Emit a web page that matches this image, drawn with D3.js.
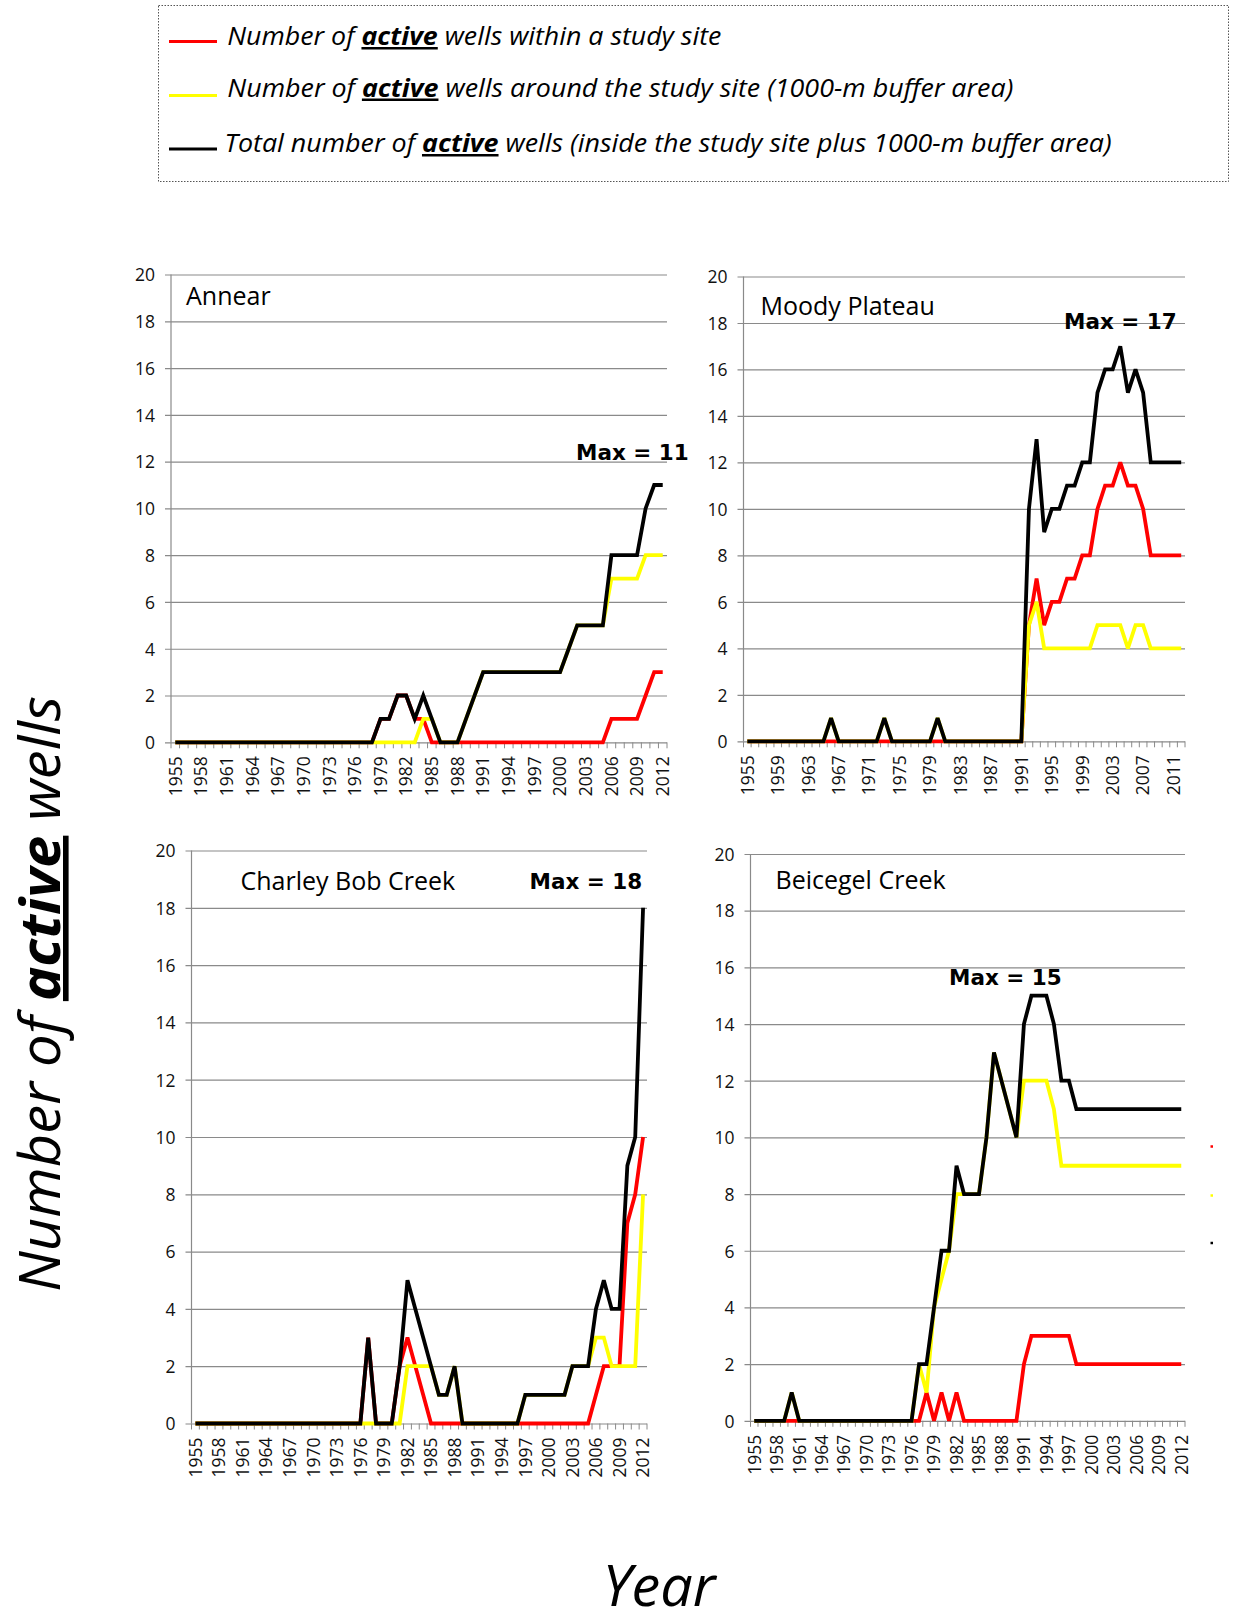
<!DOCTYPE html>
<html>
<head>
<meta charset="utf-8">
<script src="https://cdn.jsdelivr.net/npm/d3@7"></script>
<style>
  body { margin: 0; background: #fff; }
  svg { display: block; }
</style>
</head>
<body>
<svg id="chart" width="1233" height="1622"></svg>
<script>
// ---------------- DATA ----------------
const years = [1955,1956,1957,1958,1959,
  1960,1961,1962,1963,1964,1965,1966,1967,1968,1969,
  1970,1971,1972,1973,1974,1975,1976,1977,1978,1979,
  1980,1981,1982,1983,1984,1985,1986,1987,1988,1989,
  1990,1991,1992,1993,1994,1995,1996,1997,1998,1999,
  2000,2001,2002,2003,2004,2005,2006,2007,2008,2009,
  2010,2011,2012];

const ticksEvery3 = ["1955","1958","1961","1964","1967","1970","1973","1976","1979","1982",
  "1985","1988","1991","1994","1997","2000","2003","2006","2009","2012"];
const ticksEvery4 = ["1955","1959","1963","1967","1971","1975","1979","1983","1987","1991",
  "1995","1999","2003","2007","2011"];
const yTicks = [0,2,4,6,8,10,12,14,16,18,20];

const seriesColors = ["#ff0000", "#ffff00", "#000000"];
const legendLabels = [
  ["Number of ", "active", " wells within a study site"],
  ["Number of ", "active", " wells around the study site (1000-m buffer area)"],
  ["Total number of ", "active", " wells (inside the study site plus 1000-m buffer area)"]
];

// Annear
const annearWithin = [0,0,0,0,0,
  0,0,0,0,0,0,0,0,0,0,
  0,0,0,0,0,0,0,0,0,1,
  1,2,2,1,1,0,0,0,0,0,
  0,0,0,0,0,0,0,0,0,0,
  0,0,0,0,0,0,1,1,1,1,
  2,3,3];
const annearAround = [0,0,0,0,0,
  0,0,0,0,0,0,0,0,0,0,
  0,0,0,0,0,0,0,0,0,0,
  0,0,0,0,1,1,0,0,0,1,
  2,3,3,3,3,3,3,3,3,3,
  3,4,5,5,5,5,7,7,7,7,
  8,8,8];
const annearTotal = [0,0,0,0,0,
  0,0,0,0,0,0,0,0,0,0,
  0,0,0,0,0,0,0,0,0,1,
  1,2,2,1,2,1,0,0,0,1,
  2,3,3,3,3,3,3,3,3,3,
  3,4,5,5,5,5,8,8,8,8,
  10,11,11];

// Moody Plateau
const moodyWithin = [0,0,0,0,0,
  0,0,0,0,0,0,0,0,0,0,
  0,0,0,0,0,0,0,0,0,0,
  0,0,0,0,0,0,0,0,0,0,
  0,0,5,7,5,6,6,7,7,8,
  8,10,11,11,12,11,11,10,8,8,
  8,8,8];
const moodyAround = [0,0,0,0,0,
  0,0,0,0,0,0,1,0,0,0,
  0,0,0,1,0,0,0,0,0,0,
  1,0,0,0,0,0,0,0,0,0,
  0,0,5,6,4,4,4,4,4,4,
  4,5,5,5,5,4,5,5,4,4,
  4,4,4];
const moodyTotal = [0,0,0,0,0,
  0,0,0,0,0,0,1,0,0,0,
  0,0,0,1,0,0,0,0,0,0,
  1,0,0,0,0,0,0,0,0,0,
  0,0,10,13,9,10,10,11,11,12,
  12,15,16,16,17,15,16,15,12,12,
  12,12,12];

// Charley Bob Creek
const charleyWithin = [0,0,0,0,0,
  0,0,0,0,0,0,0,0,0,0,
  0,0,0,0,0,0,0,3,0,0,
  0,2,3,2,1,0,0,0,0,0,
  0,0,0,0,0,0,0,0,0,0,
  0,0,0,0,0,0,1,2,2,2,
  7,8,10];
const charleyAround = [0,0,0,0,0,
  0,0,0,0,0,0,0,0,0,0,
  0,0,0,0,0,0,0,0,0,0,
  0,0,2,2,2,2,1,1,2,0,
  0,0,0,0,0,0,0,1,1,1,
  1,1,1,2,2,2,3,3,2,2,
  2,2,8];
const charleyTotal = [0,0,0,0,0,
  0,0,0,0,0,0,0,0,0,0,
  0,0,0,0,0,0,0,3,0,0,
  0,2,5,4,3,2,1,1,2,0,
  0,0,0,0,0,0,0,1,1,1,
  1,1,1,2,2,2,4,5,4,4,
  9,10,18];

// Beicegel Creek
const beicegelWithin = [0,0,0,0,0,
  0,0,0,0,0,0,0,0,0,0,
  0,0,0,0,0,0,0,0,1,0,
  1,0,1,0,0,0,0,0,0,0,
  0,2,3,3,3,3,3,3,2,2,
  2,2,2,2,2,2,2,2,2,2,
  2,2,2];
const beicegelAround = [0,0,0,0,0,
  1,0,0,0,0,0,0,0,0,0,
  0,0,0,0,0,0,0,2,1,4,
  5,6,8,8,8,8,10,13,12,11,
  10,12,12,12,12,11,9,9,9,9,
  9,9,9,9,9,9,9,9,9,9,
  9,9,9];
const beicegelTotal = [0,0,0,0,0,
  1,0,0,0,0,0,0,0,0,0,
  0,0,0,0,0,0,0,2,2,4,
  6,6,9,8,8,8,10,13,12,11,
  10,14,15,15,15,14,12,12,11,11,
  11,11,11,11,11,11,11,11,11,11,
  11,11,11];

// ---------------- LAYOUT ----------------
const SANS = "'Open Sans', 'Noto Sans', sans-serif";
const BOLD = "'DejaVu Sans', Verdana, sans-serif";
const GRID = "#8a8a8a";

const panels = [
  { name: "Annear", max: "Max = 11", ticks: ticksEvery3,
    series: [annearWithin, annearAround, annearTotal],
    L: { left: 171, right: 667, top: 274.5, bottom: 742.3, tx: 186, ty: 305, mx: 576, my: 459.5 } },
  { name: "Moody Plateau", max: "Max = 17", ticks: ticksEvery4,
    series: [moodyWithin, moodyAround, moodyTotal],
    L: { left: 743.5, right: 1185, top: 276.5, bottom: 741.3, tx: 760.5, ty: 315, mx: 1064, my: 328.5 } },
  { name: "Charley Bob Creek", max: "Max = 18", ticks: ticksEvery3,
    series: [charleyWithin, charleyAround, charleyTotal],
    L: { left: 191.5, right: 647, top: 850.5, bottom: 1423.5, tx: 240.5, ty: 890, mx: 529.5, my: 889 } },
  { name: "Beicegel Creek", max: "Max = 15", ticks: ticksEvery3,
    series: [beicegelWithin, beicegelAround, beicegelTotal],
    L: { left: 750.5, right: 1185, top: 854, bottom: 1420.8, tx: 775.5, ty: 889, mx: 949, my: 984.5 } }
];

const svg = d3.select("#chart");

function drawPanel(P) {
  const L = P.L;
  const g = svg.append("g");
  const x = d3.scaleBand().domain(years).range([L.left, L.right]).padding(0);
  const y = d3.scaleLinear().domain([0, 20]).range([L.bottom, L.top]);
  const W = L.right - L.left;

  // y axis with gridlines
  const yAxis = d3.axisLeft(y).tickValues(yTicks).tickSize(-W).tickPadding(16);
  const yg = g.append("g").attr("transform", `translate(${L.left},0)`).call(yAxis);
  yg.select(".domain").remove();
  yg.selectAll(".tick line").attr("x1", -6).attr("x2", W)
    .attr("stroke", GRID).attr("stroke-width", 1.2);
  yg.selectAll(".tick text").attr("font-family", SANS).attr("font-size", 17.5)
    .attr("fill", "#111").attr("dy", "0.36em");
  // vertical axis line
  g.append("line").attr("x1", L.left).attr("x2", L.left)
    .attr("y1", y(20)).attr("y2", y(0)).attr("stroke", GRID).attr("stroke-width", 1.2);

  // category boundary ticks
  const bounds = years.map(d => x(d)).concat([L.right]);
  g.append("g").selectAll("line").data(bounds).join("line")
    .attr("x1", d => d).attr("x2", d => d)
    .attr("y1", y(0)).attr("y2", y(0) + 6)
    .attr("stroke", GRID).attr("stroke-width", 1);

  // x labels
  const xAxis = d3.axisBottom(x).tickValues(P.ticks.map(Number)).tickSize(0);
  const xg = g.append("g").attr("transform", `translate(0,${y(0)})`).call(xAxis);
  xg.select(".domain").remove();
  xg.selectAll(".tick text")
    .attr("transform", "rotate(-90)")
    .attr("x", -14).attr("y", 0).attr("dy", "0.36em")
    .attr("text-anchor", "end")
    .attr("font-family", SANS).attr("font-size", 17.5).attr("fill", "#111");

  // lines
  const line = d3.line()
    .x((d, i) => x(years[i]) + x.bandwidth() / 2)
    .y(d => y(d));
  P.series.forEach((s, k) => {
    g.append("path").datum(s).attr("d", line)
      .attr("fill", "none").attr("stroke", seriesColors[k])
      .attr("stroke-width", 3.8).attr("stroke-linejoin", "miter").attr("stroke-miterlimit", 3)
      .attr("stroke-linecap", "butt");
  });

  // titles
  g.append("text").attr("x", L.tx).attr("y", L.ty).text(P.name)
    .attr("font-family", SANS).attr("font-size", 25).attr("fill", "#000");
  g.append("text").attr("x", L.mx).attr("y", L.my).text(P.max)
    .attr("font-family", BOLD).attr("font-weight", "bold").attr("font-size", 21.5).attr("fill", "#000");
}

panels.forEach(drawPanel);

// ---------------- LEGEND ----------------
const lg = svg.append("g");
lg.append("rect").attr("x", 158.5).attr("y", 5.5).attr("width", 1070).attr("height", 176)
  .attr("fill", "none").attr("stroke", "#555").attr("stroke-width", 1)
  .attr("stroke-dasharray", "1.5,1.5");
const legendRows = [
  { ly: 41.5, tx: 227.3, ty: 45, len: 494 },
  { ly: 95.5, tx: 227.3, ty: 96.5, len: 786 },
  { ly: 149, tx: 224.6, ty: 152, len: 887 }
];
legendLabels.forEach((parts, i) => {
  const r = legendRows[i];
  lg.append("line").attr("x1", 169).attr("x2", 217).attr("y1", r.ly).attr("y2", r.ly)
    .attr("stroke", seriesColors[i]).attr("stroke-width", 3);
  const t = lg.append("text").attr("x", r.tx).attr("y", r.ty)
    .attr("font-family", SANS).attr("font-style", "italic").attr("font-size", 25)
    .attr("textLength", r.len).attr("lengthAdjust", "spacingAndGlyphs").attr("fill", "#000");
  t.append("tspan").text(parts[0]);
  t.append("tspan").text(parts[1]).attr("font-weight", "bold").attr("text-decoration", "underline");
  t.append("tspan").text(parts[2]);
});

// small legend-key remnants at right of last panel
seriesColors.forEach((c, i) => {
  svg.append("line").attr("x1", 1210.5).attr("x2", 1213)
    .attr("y1", [1146.5, 1195.5, 1243][i]).attr("y2", [1146.5, 1195.5, 1243][i])
    .attr("stroke", c).attr("stroke-width", 2.5);
});

// ---------------- AXIS TITLES ----------------
const yt = svg.append("text").attr("transform", "translate(60,994) rotate(-90)")
  .attr("text-anchor", "middle").attr("font-family", SANS).attr("font-style", "italic")
  .attr("font-size", 56).attr("textLength", 596).attr("lengthAdjust", "spacingAndGlyphs")
  .attr("fill", "#000");
yt.append("tspan").text("Number of ");
yt.append("tspan").text("active").attr("font-weight", "bold").attr("text-decoration", "underline");
yt.append("tspan").text(" wells");

svg.append("text").attr("x", 659).attr("y", 1606).attr("text-anchor", "middle")
  .attr("font-family", SANS).attr("font-style", "italic").attr("font-size", 56)
  .attr("textLength", 113).attr("lengthAdjust", "spacingAndGlyphs")
  .attr("fill", "#000").text("Year");
</script>
</body>
</html>
